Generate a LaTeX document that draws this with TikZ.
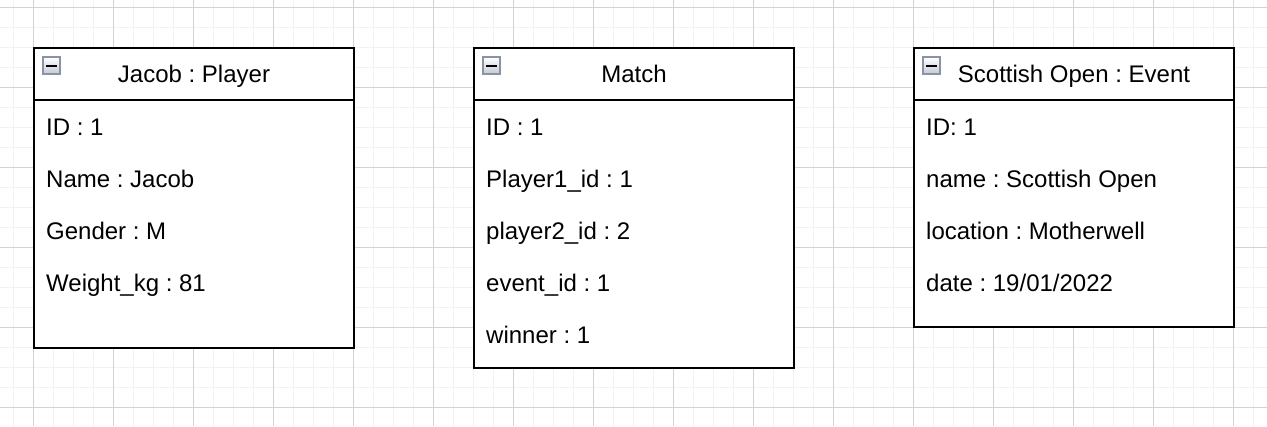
\documentclass[tikz,border=0pt]{standalone}
\usepackage{fontspec}
\setmainfont{Liberation Sans}
\usepackage{tikz}
\frenchspacing

\definecolor{gridminor}{HTML}{F2F2F2}
\definecolor{gridmajor}{HTML}{D3D3D3}
\definecolor{iconframe}{HTML}{8A93A3}
\definecolor{iconfill}{HTML}{C6CAD1}

\tikzset{
  classbox/.style={draw=black, line width=2pt, fill=white, minimum width=320pt, anchor=north west, inner sep=0pt, outer sep=0pt},
  classhead/.style={draw=black, line width=2pt, minimum width=320pt, minimum height=52pt, anchor=north west, inner sep=0pt, outer sep=0pt, text height=17pt, text depth=0pt, font=\fontsize{24}{28}\selectfont},
  attr/.style={anchor=base west, inner sep=0pt, font=\fontsize{24}{28}\selectfont},
  fold/.style={draw=iconframe, line width=1.5pt, top color=white, bottom color=iconfill, minimum size=17pt, inner sep=0pt}
}

\begin{document}
\begin{tikzpicture}[x=1pt,y=-1pt]
  \useasboundingbox (0,0) rectangle (1267,426);

  % background grid
  \foreach \gx in {13,33,...,1253} \draw[gridminor, line width=1pt] (\gx,0) -- (\gx,426);
  \foreach \gy in {7,27,...,407} \draw[gridminor, line width=1pt] (0,\gy) -- (1267,\gy);
  \foreach \gx in {33,113,...,1233} \draw[gridmajor, line width=1pt] (\gx,0) -- (\gx,426);
  \foreach \gy in {7,87,...,407} \draw[gridmajor, line width=1pt] (0,\gy) -- (1267,\gy);

  % player
  \node[classbox, minimum height=300pt] (player) at (34,48) {};
  \node[classhead] (player-head) at (player.north west) {Jacob : Player};
  \node[fold] (player-fold) at (51.5,65.5) {};
  \draw[line width=2pt] ([xshift=-5.5pt]player-fold.center) -- ([xshift=5.5pt]player-fold.center);
  \foreach \row [count=\k from 0] in {ID : 1, Name : Jacob, Gender : M, Weight\_kg : 81}
    \node[attr] (player-attr\k) at (46,{135.6+52*\k}) {\row};

  % match
  \node[classbox, minimum height=320pt] (match) at (474,48) {};
  \node[classhead] (match-head) at (match.north west) {Match};
  \node[fold] (match-fold) at (491.5,65.5) {};
  \draw[line width=2pt] ([xshift=-5.5pt]match-fold.center) -- ([xshift=5.5pt]match-fold.center);
  \foreach \row [count=\k from 0] in {ID : 1, Player1\_id : 1, player2\_id : 2, event\_id : 1, winner : 1}
    \node[attr] (match-attr\k) at (486,{135.6+52*\k}) {\row};

  % event
  \node[classbox, minimum height=279pt] (event) at (914,48) {};
  \node[classhead] (event-head) at (event.north west) {Scottish Open : Event};
  \node[fold] (event-fold) at (931.5,65.5) {};
  \draw[line width=2pt] ([xshift=-5.5pt]event-fold.center) -- ([xshift=5.5pt]event-fold.center);
  \foreach \row [count=\k from 0] in {ID: 1, name : Scottish Open, location : Motherwell, date : 19/01/2022}
    \node[attr] (event-attr\k) at (926,{135.6+52*\k}) {\row};
\end{tikzpicture}
\end{document}
